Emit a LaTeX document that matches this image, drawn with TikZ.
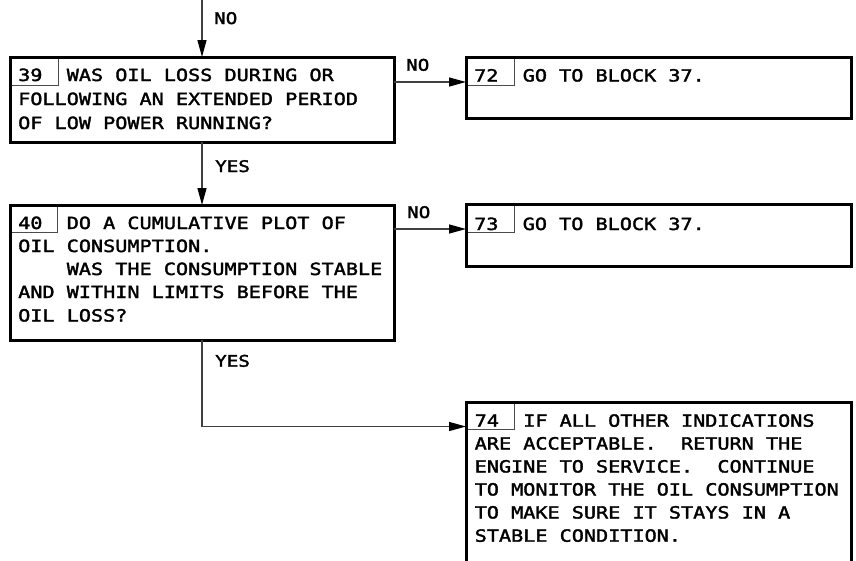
\documentclass[tikz,border=0pt]{standalone}
\usepackage{fontspec}
\usetikzlibrary{arrows.meta,calc}
\newfontfamily\monofont[FakeStretch=1.2,FakeBold=2]{DejaVu Sans Mono}
\frenchspacing
\begin{document}
\begin{tikzpicture}[x=1pt,y=-1pt,
  box/.style={draw=black,line width=3pt,anchor=north west,inner sep=0pt,outer sep=0pt},
  cell/.style={draw=black!70,line width=1pt,anchor=north west,inner sep=0pt,outer sep=0pt},
  txt/.style={anchor=base west,inner sep=0pt,font=\monofont\fontsize{16.8}{23}\selectfont},
  lbl/.style={anchor=base west,inner sep=0pt,font=\monofont\fontsize{16}{20}\selectfont},
  conn/.style={draw=black!75,line width=1.2pt},
  arr/.style={conn,-{Triangle[length=17pt,width=9pt,black]}}
]
\useasboundingbox (0,0) rectangle (856,560);
% cells
\node[cell,minimum width=48pt,minimum height=28pt] (c39) at (10,57) {};
\node[cell,minimum width=47.5pt,minimum height=27.5pt] (c40) at (10,205) {};
\node[cell,minimum width=48pt,minimum height=28pt] (c72) at (466,57) {};
\node[cell,minimum width=48pt,minimum height=28pt] (c73) at (466,204.5) {};
\node[cell,minimum width=48pt,minimum height=27pt] (c74) at (466,402) {};
% boxes
\node[box,minimum width=384pt,minimum height=85pt] (b39) at (10,57) {};
\node[box,minimum width=384pt,minimum height=135pt] (b40) at (10,205) {};
\node[box,minimum width=385pt,minimum height=61.5pt] (b72) at (466,57) {};
\node[box,minimum width=385pt,minimum height=62pt] (b73) at (466,204.5) {};
\node[box,minimum width=385pt,minimum height=162pt] (b74) at (466,402) {};
% texts
\node[txt] (t39a) at (18,81) {39~~WAS OIL LOSS DURING OR};
\node[txt] (t39b) at (18,105) {FOLLOWING AN EXTENDED PERIOD};
\node[txt] (t39c) at (18,129) {OF LOW POWER RUNNING?};
\node[txt] (t40a) at (18,229) {40~~DO A CUMULATIVE PLOT OF};
\node[txt] (t40b) at (18,252) {OIL CONSUMPTION.};
\node[txt] (t40c) at (18,275) {~~~~WAS THE CONSUMPTION STABLE};
\node[txt] (t40d) at (18,298) {AND WITHIN LIMITS BEFORE THE};
\node[txt] (t40e) at (18,321.5) {OIL LOSS?};
\node[txt] (t72a) at (474,81.5) {72~~GO TO BLOCK 37.};
\node[txt] (t73a) at (474,230) {73~~GO TO BLOCK 37.};
\node[txt] (t74a) at (474.5,426.7) {74~~IF ALL OTHER INDICATIONS};
\node[txt] (t74b) at (474.5,449.5) {ARE ACCEPTABLE.~~RETURN THE};
\node[txt] (t74c) at (474.5,472.5) {ENGINE TO SERVICE.~~CONTINUE};
\node[txt] (t74d) at (474.5,495.5) {TO MONITOR THE OIL CONSUMPTION};
\node[txt] (t74e) at (474.5,518.5) {TO MAKE SURE IT STAYS IN A};
\node[txt] (t74f) at (474.5,541.7) {STABLE CONDITION.};
% labels
\node[lbl] (l1) at (214,24) {NO};
\node[lbl] (l2) at (215,172) {YES};
\node[lbl] (l3) at (406,70.7) {NO};
\node[lbl] (l4) at (407,218) {NO};
\node[lbl] (l5) at (215,366.7) {YES};
% connectors
\coordinate (top) at (202,0);
\draw[arr] (top) -- (b39.north);
\draw[arr] (b39.south) -- (b40.north);
\draw[arr] ($(b39.north east)+(0,25)$) -- ($(b72.north west)+(0,25)$);
\draw[arr] ($(b40.north east)+(0,24)$) -- ($(b73.north west)+(0,24.5)$);
\draw[arr] (b40.south) |- ($(b74.north west)+(0,24.5)$);
\end{tikzpicture}
\end{document}
